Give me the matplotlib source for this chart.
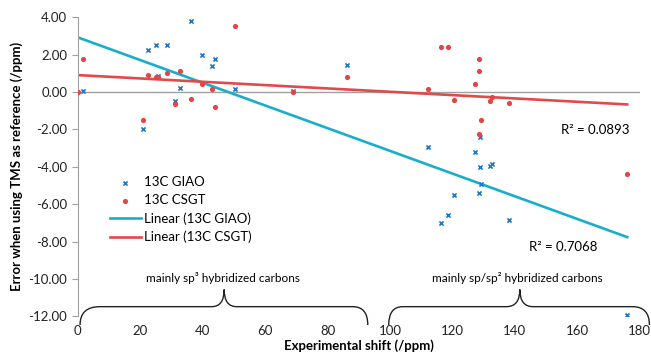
import numpy as np
import matplotlib
matplotlib.use("Agg")
import matplotlib.pyplot as plt
from matplotlib.path import Path
from matplotlib.patches import PathPatch
from matplotlib.ticker import FormatStrFormatter

plt.rcParams['font.family'] = ['Lato', 'DejaVu Sans']

# 13C GIAO errors (blue crosses)
giao_x = [1.8, 22.5, 25.1, 28.5, 25.6, 32.7, 31.2, 36.2, 39.7, 44.0, 43.1, 50.3, 20.8,
          69.1, 86.4,
          128.7, 112.3, 127.3, 128.7, 131.9, 132.6, 129.0, 128.4, 120.5, 118.7, 116.4,
          138.0, 176.0]
giao_y = [0.05, 2.25, 2.53, 2.53, 0.87, 0.22, -0.45, 3.83, 1.98, 1.76, 1.40, 0.16, -1.96,
          0.07, 1.44,
          -2.38, -2.93, -3.20, -4.01, -3.94, -3.87, -4.91, -5.39, -5.49, -6.56, -7.00,
          -6.82, -11.92]

# 13C CSGT errors (red dots)
csgt_x = [0.0, 1.8, 22.5, 25.1, 25.6, 28.5, 32.7, 31.2, 36.2, 39.7, 43.1, 44.0, 50.3, 20.8,
          69.1, 86.4,
          116.4, 118.7, 128.5, 128.5, 127.3, 112.3, 120.5, 132.1, 132.6, 138.0, 129.0,
          128.4, 176.0]
csgt_y = [0.0, 1.76, 0.94, 0.82, 0.79, 1.04, 1.13, -0.65, -0.38, 0.43, 0.15, -0.78, 3.51, -1.49,
          0.02, 0.80,
          2.42, 2.42, 1.75, 1.14, 0.43, 0.18, -0.41, -0.45, -0.24, -0.57, -1.51,
          -2.22, -4.38]

# linear trendlines as drawn in the chart (ends at x = 0 and x = 176)
trend_x = [0.0, 176.0]
giao_trend = [2.93, -7.76]
csgt_trend = [0.91, -0.66]

r2_giao = "R² = 0.7068"
r2_csgt = "R² = 0.0893"

blue = "#1f78c8"
red = "#e34545"
cyan = "#18aecb"
red_line = "#e04a4a"

fig = plt.figure(figsize=(6.51, 3.59), dpi=100)
ax = fig.add_axes([0.1194, 0.1187, 0.8633, 0.833])

ax.axhline(0, color="#a0a0a0", lw=1.0, zorder=1)
ax.scatter(giao_x, giao_y, marker="x", s=9, color=blue, linewidths=1.2, zorder=3, label="13C GIAO")
ax.scatter(csgt_x, csgt_y, marker="o", s=14, color=red, linewidths=0, zorder=3, label="13C CSGT")
ax.plot(trend_x, giao_trend, color=cyan, lw=1.9, zorder=2, label="Linear (13C GIAO)")
ax.plot(trend_x, csgt_trend, color=red_line, lw=1.9, zorder=2, label="Linear (13C CSGT)")

ax.set_xlim(0, 180)
ax.set_ylim(-12, 4)
ax.set_xticks(range(0, 181, 20))
ax.set_yticks(range(-12, 5, 2))
ax.yaxis.set_major_formatter(FormatStrFormatter("%.2f"))
ax.tick_params(axis="x", length=0, labelsize=9.5, pad=6, colors="#222222")
ax.tick_params(axis="y", length=4, color="#a0a0a0", labelsize=9.5, colors="#222222")
for s in ["top", "right", "bottom"]:
    ax.spines[s].set_visible(False)
ax.spines["left"].set_color("#a0a0a0")

ax.set_xlabel("Experimental shift (/ppm)", fontsize=9.5, fontweight="bold", labelpad=2)
ax.set_ylabel("Error when using TMS as reference (/ppm)", fontsize=9.5, fontweight="bold", labelpad=4)

ax.text(176.7, -2.03, r2_csgt, ha="right", va="center", fontsize=9.5)
ax.text(166.5, -8.29, r2_giao, ha="right", va="center", fontsize=9.5)

leg = ax.legend(loc="upper left", bbox_to_anchor=(0.045, 0.49), frameon=False, fontsize=9.5,
                handlelength=2.4, handletextpad=0.2, labelspacing=0.45, borderpad=0,
                scatterpoints=1)


def brace(x0, xa, xb, xt, xc, xd, x1, ybot=-12.46, yflat=-11.48, ytip=-10.56):
    verts = [(x0, ybot), (x0, yflat), (xa, yflat),
             (xb, yflat),
             (xt, yflat), (xt, ytip),
             (xt, yflat), (xc, yflat),
             (xd, yflat),
             (x1, yflat), (x1, ybot)]
    codes = [Path.MOVETO, Path.CURVE3, Path.CURVE3,
             Path.LINETO,
             Path.CURVE3, Path.CURVE3,
             Path.CURVE3, Path.CURVE3,
             Path.LINETO,
             Path.CURVE3, Path.CURVE3]
    p = PathPatch(Path(verts, codes), fill=False, lw=1.0, color="#222222", clip_on=False)
    ax.add_patch(p)


brace(0.74, 7.1, 42.9, 46.9, 50.9, 88.1, 92.9)
brace(99.6, 104.1, 137.3, 141.6, 145.8, 177.7, 183.1)

ax.text(46.5, -9.95, "mainly sp³ hybridized carbons", ha="center", va="center", fontsize=8.5)
ax.text(140.8, -9.95, "mainly sp/sp² hybridized carbons", ha="center", va="center", fontsize=8.5)

fig.savefig("out.png", dpi=100)
